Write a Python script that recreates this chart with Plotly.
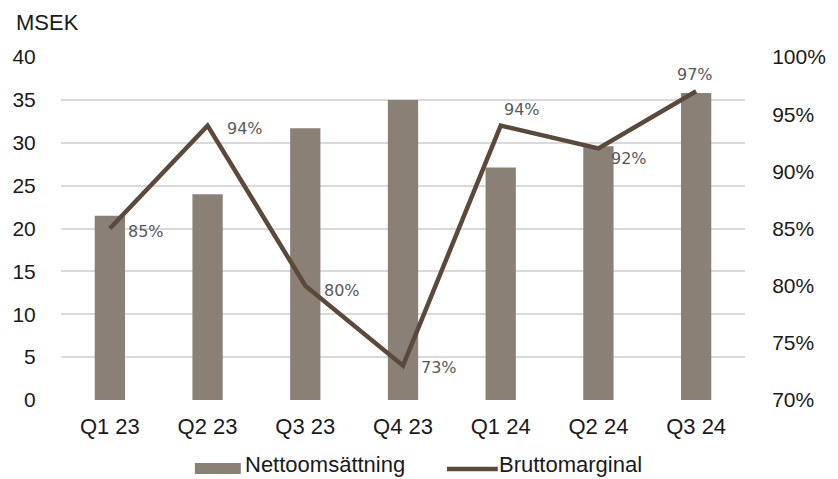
import plotly.graph_objects as go

# Quarterly figures
quarters = ["Q1 23", "Q2 23", "Q3 23", "Q4 23", "Q1 24", "Q2 24", "Q3 24"]
nettoomsattning = [21.5, 24.0, 31.7, 35.0, 27.1, 29.6, 35.8]   # MSEK
bruttomarginal = [85, 94, 80, 73, 94, 92, 97]                  # %

# Label offsets (pixels) for the margin labels
label_shift_x = [16, 17, 17, 16, 1, 11, -1]
label_shift_y = [-3, -3, -5, -2, 16, -10, 17]
label_anchor = ["left", "left", "left", "left", "left", "left", "center"]

left_ticks = list(range(0, 41, 5))
right_ticks = list(range(70, 101, 5))
right_tick_text = [f"{t}%" for t in right_ticks]

BAR = "#8b8075"
LINE = "#5b4a3b"
GRID = "#d9d9d9"
SANS = "Liberation Sans, Arial, sans-serif"
TICK_FONT = dict(family=SANS, size=21, color="#1a1a1a")
X_FONT = dict(family=SANS, size=22, color="#1a1a1a")

fig = go.Figure()

fig.add_trace(go.Bar(
    x=quarters, y=nettoomsattning, name="Nettoomsättning",
    marker=dict(color=BAR, line=dict(width=0)), yaxis="y",
))
fig.add_trace(go.Scatter(
    x=quarters, y=bruttomarginal, name="Bruttomarginal",
    mode="lines", line=dict(color=LINE, width=4.5), yaxis="y2",
))

annotations = []
for q, v, dx, dy, anc in zip(quarters, bruttomarginal, label_shift_x, label_shift_y, label_anchor):
    annotations.append(dict(
        x=q, y=v, xref="x", yref="y2", text=f"{v:.0f}%", showarrow=False,
        xanchor=anc, yanchor="middle", xshift=dx, yshift=dy,
        font=dict(family="DejaVu Sans, Verdana, sans-serif", size=16, color="#595959"),
    ))

# Axis unit
annotations.append(dict(
    x=-58 / 700, y=(400 - 23) / 343, xref="paper", yref="paper", text="MSEK",
    showarrow=False, xanchor="left", yanchor="middle", xshift=10, font=X_FONT,
))

# Legend entries drawn below the plot
legend_font = dict(family=SANS, size=22, color="#1a1a1a")
legend_y = (400 - 464) / 343
annotations.append(dict(
    x=(245 - 58) / 700, y=legend_y, xref="paper", yref="paper",
    text="Nettoomsättning", showarrow=False, xanchor="left", yanchor="middle",
    font=legend_font, borderpad=0,
))
annotations.append(dict(
    x=(505 - 58) / 700, y=legend_y, xref="paper", yref="paper",
    text="Bruttomarginal", showarrow=False, xanchor="left", yanchor="middle",
    font=legend_font, borderpad=0,
))

shapes = [
    dict(type="rect", xref="paper", yref="paper",
         x0=(195 - 58) / 700, x1=(242 - 58) / 700,
         y0=(400 - 474) / 343, y1=(400 - 463) / 343,
         fillcolor=BAR, line=dict(width=0)),
    dict(type="line", xref="paper", yref="paper",
         x0=(453 - 58) / 700, x1=(505 - 58) / 700,
         y0=(400 - 469) / 343, y1=(400 - 469) / 343,
         line=dict(color=LINE, width=4.5)),
]

fig.update_layout(
    width=838, height=479,
    margin=dict(l=58, r=80, t=57, b=79),
    paper_bgcolor="white", plot_bgcolor="white",
    showlegend=False,
    bargap=0.69,
    annotations=annotations,
    shapes=shapes,
    xaxis=dict(
        tickfont=X_FONT, showgrid=False, showline=False, zeroline=False,
        ticks="outside", ticklen=7, tickcolor="rgba(0,0,0,0)",
    ),
    yaxis=dict(
        range=[0, 40], tickvals=left_ticks, tickfont=TICK_FONT,
        showgrid=True, gridcolor=GRID, gridwidth=1.5, zeroline=False,
        showline=False, ticks="outside", ticklen=20, tickcolor="rgba(0,0,0,0)",
    ),
    yaxis2=dict(
        range=[70, 100], tickvals=right_ticks, ticktext=right_tick_text,
        tickfont=TICK_FONT, overlaying="y", side="right",
        showgrid=False, zeroline=False, showline=False,
        ticks="outside", ticklen=22, tickcolor="rgba(0,0,0,0)",
    ),
)

fig.write_html("out.html")
